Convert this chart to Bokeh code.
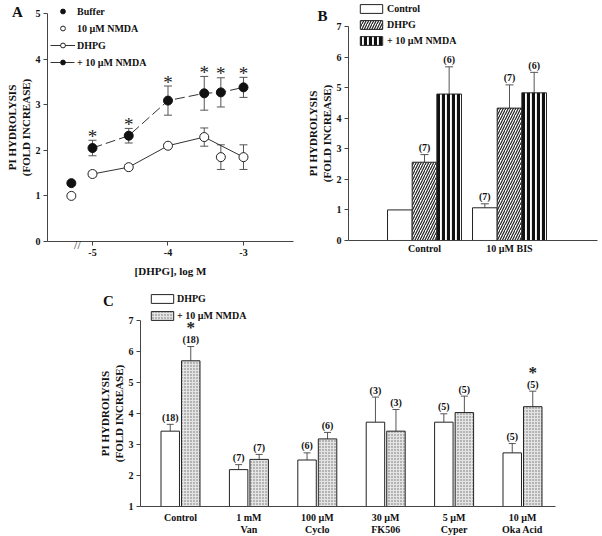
import numpy as np
from bokeh.plotting import figure
from bokeh.models import (Range1d, FixedTicker, Whisker, TeeHead, ColumnDataSource,
                          Legend, LegendItem, Label)
from bokeh.layouts import column, row
from bokeh.core.properties import value
from bokeh.embed import file_html
from bokeh.resources import INLINE

FONT = "Liberation Serif"
AX = "#444444"
ERR = "#555555"

# ---------------- Panel A data ----------------
a_log_conc = [-5.0, -4.52, -4.0, -3.52, -3.30, -3.0]
a_dhpg = [1.48, 1.63, 2.10, 2.29, 1.85, 1.85]
a_dhpg_err = [0.06, 0.05, 0.04, 0.20, 0.27, 0.27]
a_dhpg_line_idx = [0, 1, 2, 3, 5]
a_nmda = [2.05, 2.32, 3.09, 3.25, 3.27, 3.38]
a_nmda_err = [0.17, 0.16, 0.32, 0.37, 0.32, 0.22]
a_nmda_sig = ["*", "*", "*", "*", "*", "*"]
a_basal_x = [-5.28]
a_buffer = [1.28]
a_nmda_alone = [1.00]
a_xticks = [-5, -4, -3]
a_xtick_labels = ["-5", "-4", "-3"]
a_yticks = [0, 1, 2, 3, 4, 5]

# ---------------- Panel B data ----------------
b_groups = ["Control", "10 µM BIS"]
b_control = [1.00, 1.07]
b_control_err = [0.0, 0.13]
b_dhpg = [2.56, 4.33]
b_dhpg_err = [0.25, 0.76]
b_nmda = [4.79, 4.83]
b_nmda_err = [0.89, 0.67]
b_n_control = ["", "(7)"]
b_n_dhpg = ["(7)", "(7)"]
b_n_nmda = ["(6)", "(6)"]
b_yticks = [0, 1, 2, 3, 4, 5, 6, 7]

# ---------------- Panel C data ----------------
c_groups = ["Control", "1 mM\nVan", "100 µM\nCyclo", "30 µM\nFK506", "5 µM\nCyper", "10 µM\nOka Acid"]
c_dhpg = [3.43, 2.19, 2.50, 3.72, 3.72, 2.73]
c_dhpg_err = [0.22, 0.16, 0.23, 0.81, 0.27, 0.30]
c_nmda = [5.70, 2.52, 3.18, 3.43, 4.03, 4.22]
c_nmda_err = [0.46, 0.16, 0.21, 0.70, 0.53, 0.50]
c_n_dhpg = ["(18)", "(7)", "(6)", "(3)", "(5)", "(5)"]
c_n_nmda = ["(18)", "(7)", "(6)", "(3)", "(5)", "(5)"]
c_nmda_sig = ["*", "", "", "", "", "*"]
c_yticks = [1, 2, 3, 4, 5, 6, 7]


def make_fig(width, height, xr, yr):
    p = figure(width=width, height=height, output_backend="svg", toolbar_location=None,
               x_range=Range1d(*xr), y_range=Range1d(*yr),
               min_border_left=0, min_border_right=0, min_border_top=0, min_border_bottom=0)
    p.min_border = 0
    p.grid.visible = False
    p.outline_line_color = None
    p.background_fill_color = "white"
    p.border_fill_color = "white"
    for ax in p.axis:
        ax.axis_line_color = AX
        ax.major_tick_line_color = AX
        ax.minor_tick_line_color = None
        ax.major_tick_in = 0
        ax.major_tick_out = 4
        ax.major_label_standoff = 3
        ax.axis_label_standoff = 3
        ax.major_label_text_font = FONT
        ax.major_label_text_font_style = "bold"
        ax.major_label_text_font_size = "10px"
        ax.major_label_text_color = "#111111"
        ax.axis_label_text_font = FONT
        ax.axis_label_text_font_style = "bold"
        ax.axis_label_text_font_size = "11px"
        ax.axis_label_text_color = "#111111"
        ax.axis_label_text_line_height = 1.1
    p.yaxis.axis_label_standoff = 1
    return p


def whisker(p, x, lower, upper, lower_head=True, size=8):
    src = ColumnDataSource(dict(x=list(x), lower=list(lower), upper=list(upper)))
    w = Whisker(source=src, base="x", lower="lower", upper="upper",
                line_color=ERR, line_width=1,
                upper_head=TeeHead(size=size, line_color=ERR, line_width=1),
                lower_head=TeeHead(size=size, line_color=ERR, line_width=1) if lower_head else None)
    p.add_layout(w)


def panel_letter(p, txt, x, y):
    p.add_layout(Label(x=x, y=y, x_units="screen", y_units="screen", text=txt,
                       text_font=FONT, text_font_style="bold", text_font_size="15px",
                       text_align="center", text_baseline="middle", text_color="#111111"))


def n_labels(p, x, top, labels, dy=-7):
    p.text(x=list(x), y=list(top), text=list(labels), text_align="center", text_baseline="middle",
           y_offset=dy, text_font=value(FONT), text_font_style="bold", text_font_size="10px",
           text_color="#111111")


def legend(items, loc, spacing, glyph_w, glyph_h, standoff):
    return Legend(items=items, location=loc, padding=0, margin=0, spacing=spacing,
                  glyph_width=glyph_w, glyph_height=glyph_h, label_height=12, label_standoff=standoff,
                  label_text_font=FONT, label_text_font_style="bold", label_text_font_size="10px",
                  label_text_color="#111111", border_line_color=None, background_fill_alpha=0)


# ================= Panel A =================
pA = make_fig(300, 283, (-6.2185, -2.245), (-0.921, 5.285))
pA.xaxis.fixed_location = 0
pA.xaxis.bounds = (-5.596, -2.338)
pA.yaxis.fixed_location = -5.596
pA.yaxis.bounds = (0, 5)
pA.xaxis.ticker = FixedTicker(ticks=a_xticks)
pA.xaxis.major_label_overrides = {t: l for t, l in zip(a_xticks, a_xtick_labels)}
pA.yaxis.ticker = FixedTicker(ticks=a_yticks)
pA.xaxis.axis_label = "[DHPG], log M"
pA.yaxis.axis_label = "PI HYDROLYSIS\n(FOLD INCREASE)"
pA.xaxis.axis_label_standoff = 6

a_x = np.array(a_log_conc)
a_d = np.array(a_dhpg); a_de = np.array(a_dhpg_err)
a_n = np.array(a_nmda); a_ne = np.array(a_nmda_err)
whisker(pA, a_x, a_d - a_de, a_d + a_de)
whisker(pA, a_x, a_n - a_ne, a_n + a_ne)

idx = a_dhpg_line_idx
l_d = pA.line(a_x[idx], a_d[idx], line_color="#333333", line_width=1)
l_n = pA.line(a_x, a_n, line_color="#333333", line_width=1, line_dash="10 4")
s_d = pA.scatter(a_x, a_d, size=9, marker="circle", fill_color="white", line_color="#222222", line_width=1)
s_n = pA.scatter(a_x, a_n, size=9, marker="circle", fill_color="#111111", line_color="#111111")
s_b = pA.scatter(a_basal_x, a_buffer, size=9, marker="circle", fill_color="#111111", line_color="#111111")
s_o = pA.scatter(a_basal_x, a_nmda_alone, size=9, marker="circle", fill_color="white", line_color="#222222")
pA.text(x=list(a_x), y=list(a_n + a_ne), text=a_nmda_sig, text_align="center", text_baseline="alphabetic",
        y_offset=-4, text_font=value(FONT), text_font_size="19px", text_color="#222222")
pA.add_layout(Label(x=-5.2, y=-0.07, text="//", text_font=FONT, text_font_size="12px",
                    text_align="center", text_baseline="middle", text_color="#333333"))

pA.add_layout(legend([LegendItem(label="Buffer", renderers=[s_b]),
                      LegendItem(label="10 µM NMDA", renderers=[s_o]),
                      LegendItem(label="DHPG", renderers=[l_d, s_d]),
                      LegendItem(label="+ 10 µM NMDA", renderers=[l_n, s_n])],
                     (50, 215), 5, 25, 12, 2))
panel_letter(pA, "A", 17, 272)

# ================= Panel B =================
bw = 0.29
pB = make_fig(302, 283, (-1.4588, 2.0941), (-1.4065, 7.85))
pB.xaxis.fixed_location = 0
pB.xaxis.bounds = (-0.894, 2.035)
pB.yaxis.fixed_location = -0.894
pB.yaxis.bounds = (0, 7)
bx = np.arange(len(b_groups))
pB.xaxis.ticker = FixedTicker(ticks=list(bx))
pB.xaxis.major_label_overrides = {int(i): g for i, g in zip(bx, b_groups)}
pB.xaxis.major_tick_line_color = None
pB.xaxis.major_tick_out = 0
pB.yaxis.ticker = FixedTicker(ticks=b_yticks)
pB.yaxis.axis_label = "PI HYDROLYSIS\n(FOLD INCREASE)"

bc = np.array(b_control); bce = np.array(b_control_err)
bd = np.array(b_dhpg); bde = np.array(b_dhpg_err)
bn = np.array(b_nmda); bne = np.array(b_nmda_err)
has = bce > 0
whisker(pB, (bx - bw)[has], bc[has], (bc + bce)[has], lower_head=False)
whisker(pB, bx, bd, bd + bde, lower_head=False)
whisker(pB, bx + bw, bn, bn + bne, lower_head=False)
r_bc = pB.vbar(x=bx - bw, top=bc, bottom=0, width=bw, fill_color="white", line_color="#222222")
r_bd = pB.vbar(x=bx, top=bd, bottom=0, width=bw, fill_color="white", line_color="#222222",
               hatch_pattern="right_diagonal_line", hatch_scale=5, hatch_weight=1.2, hatch_color="#222222")
r_bn = pB.vbar(x=bx + bw, top=bn, bottom=0, width=bw, fill_color="white", line_color="#222222",
               hatch_pattern="vertical_line", hatch_scale=5, hatch_weight=3.2, hatch_color="#111111")
n_labels(pB, bx - bw, bc + bce, b_n_control)
n_labels(pB, bx, bd + bde, b_n_dhpg)
n_labels(pB, bx + bw, bn + bne, b_n_nmda)

pB.add_layout(legend([LegendItem(label="Control", renderers=[r_bc]),
                      LegendItem(label="DHPG", renderers=[r_bd]),
                      LegendItem(label="+ 10 µM NMDA", renderers=[r_bn])],
                     (57, 237), 4, 28, 11, 2))
panel_letter(pB, "B", 22, 268)

# ================= Panel C =================
cw = 0.27
co = 0.15
pC = make_fig(602, 253, (-2.6316, 6.1696), (0.0323, 8.1935))
pC.xaxis.fixed_location = 1
pC.xaxis.bounds = (-0.585, 5.48)
pC.yaxis.fixed_location = -0.585
pC.yaxis.bounds = (1, 7)
cx = np.arange(len(c_groups))
pC.xaxis.ticker = FixedTicker(ticks=list(cx))
pC.xaxis.major_label_overrides = {int(i): g for i, g in zip(cx, c_groups)}
pC.xaxis.major_tick_line_color = None
pC.xaxis.major_tick_out = 0
pC.xaxis.major_label_standoff = 5
pC.xaxis.major_label_text_line_height = 1.15
pC.yaxis.ticker = FixedTicker(ticks=c_yticks)
pC.yaxis.axis_label = "PI HYDROLYSIS\n(FOLD INCREASE)"

cd = np.array(c_dhpg); cde = np.array(c_dhpg_err)
cn = np.array(c_nmda); cne = np.array(c_nmda_err)
whisker(pC, cx - co, cd, cd + cde, lower_head=False, size=7)
whisker(pC, cx + co, cn, cn + cne, lower_head=False, size=7)
r_cd = pC.vbar(x=cx - co, top=cd, bottom=1, width=cw, fill_color="white", line_color="#222222")
r_cn = pC.vbar(x=cx + co, top=cn, bottom=1, width=cw, fill_color="#e4e4e4", line_color="#222222",
               hatch_pattern="dot", hatch_scale=3, hatch_weight=1, hatch_color="#6a6a6a")
n_labels(pC, cx - co, cd + cde, c_n_dhpg)
n_labels(pC, cx + co, cn + cne, c_n_nmda)
pC.text(x=list(cx + co), y=list(cn + cne), text=c_nmda_sig, text_align="center", text_baseline="alphabetic",
        y_offset=-19, text_font=value(FONT), text_font_style="bold", text_font_size="17px",
        text_color="#222222")

pC.add_layout(legend([LegendItem(label="DHPG", renderers=[r_cd]),
                      LegendItem(label="+ 10 µM NMDA", renderers=[r_cn])],
                     (148, 215), 5, 28, 11, 1))
panel_letter(pC, "C", 108, 236)

layout = column(row(pA, pB, spacing=0), pC, spacing=0)
open("out.html", "w").write(file_html(layout, INLINE))
